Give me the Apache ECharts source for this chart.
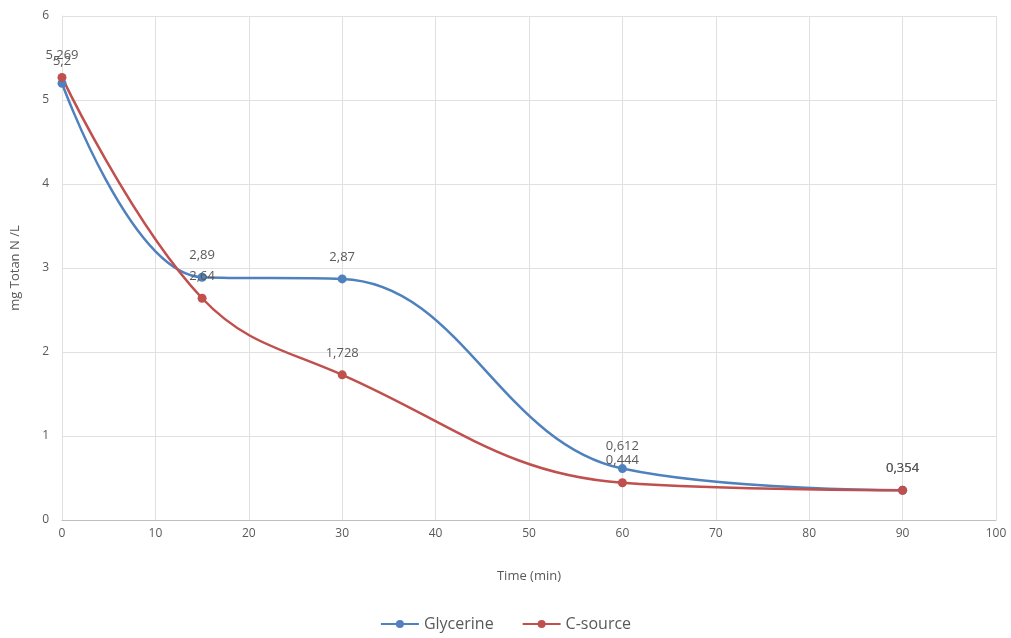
<!DOCTYPE html>
<html lang="en">
<head>
    <meta charset="UTF-8">
    <title>mg Totan N / L</title>
    <script src="https://cdn.jsdelivr.net/npm/echarts@6/dist/echarts.min.js"></script>
    <style>
        body { margin: 0; background: #fff; }
    </style>
</head>
<body>
<div id="main" style="width:1011px;height:638px"></div>
<script type="text/javascript">
    var times = [0, 15, 30, 60, 90];
    var glycerine = [5.2, 2.89, 2.87, 0.612, 0.354];
    var cSource = [5.269, 2.64, 1.728, 0.444, 0.354];

    function pairs(vals) {
        return times.map(function (t, i) { return [t, vals[i]]; });
    }

    function fmt(p) {
        return String(p.value[1]).replace('.', ',');
    }

    var chartDom = document.getElementById('main');
    var myChart = echarts.init(chartDom);

    var labelStyle = {
        show: true,
        position: 'top',
        distance: 11,
        color: '#595959',
        fontSize: 13,
        fontFamily: 'Open Sans',
        formatter: fmt
    };

    var option = {
        animation: false,
        textStyle: { fontFamily: 'Open Sans' },
        grid: { left: 62, right: 15, top: 16, bottom: 118 },
        legend: {
            bottom: 1,
            left: 'center',
            itemWidth: 38,
            itemHeight: 10,
            itemGap: 28,
            textStyle: { color: '#595959', fontSize: 16 },
            data: ['Glycerine', 'C-source']
        },
        xAxis: {
            type: 'value',
            min: 0, max: 100, interval: 10,
            name: 'Time (min)',
            nameLocation: 'middle',
            nameGap: 50,
            nameTextStyle: { color: '#595959', fontSize: 13 },
            axisLine: { lineStyle: { color: '#bfbfbf' } },
            axisTick: { show: false },
            axisLabel: { color: '#595959', fontSize: 12, margin: 8 },
            splitLine: { show: true, lineStyle: { color: '#e0e0e0' } }
        },
        yAxis: {
            type: 'value',
            min: 0, max: 6, interval: 1,
            name: 'mg Totan N /L',
            nameLocation: 'middle',
            nameGap: 40,
            nameTextStyle: { color: '#595959', fontSize: 13 },
            axisLine: { show: true, lineStyle: { color: '#e0e0e0' } },
            axisTick: { show: false },
            axisLabel: { color: '#595959', fontSize: 12, margin: 13 },
            splitLine: { lineStyle: { color: '#e0e0e0' } }
        },
        series: [
            {
                name: 'Glycerine',
                type: 'line',
                smooth: 0.4,
                data: pairs(glycerine),
                symbol: 'circle',
                symbolSize: 9,
                itemStyle: { color: '#4f81bd' },
                lineStyle: { width: 2.5, color: '#4f81bd' },
                label: labelStyle
            },
            {
                name: 'C-source',
                type: 'line',
                smooth: 0.4,
                data: pairs(cSource),
                symbol: 'circle',
                symbolSize: 9,
                itemStyle: { color: '#c0504d' },
                lineStyle: { width: 2.5, color: '#c0504d' },
                label: labelStyle
            }
        ]
    };

    myChart.setOption(option, true);
</script>
</body>
</html>
